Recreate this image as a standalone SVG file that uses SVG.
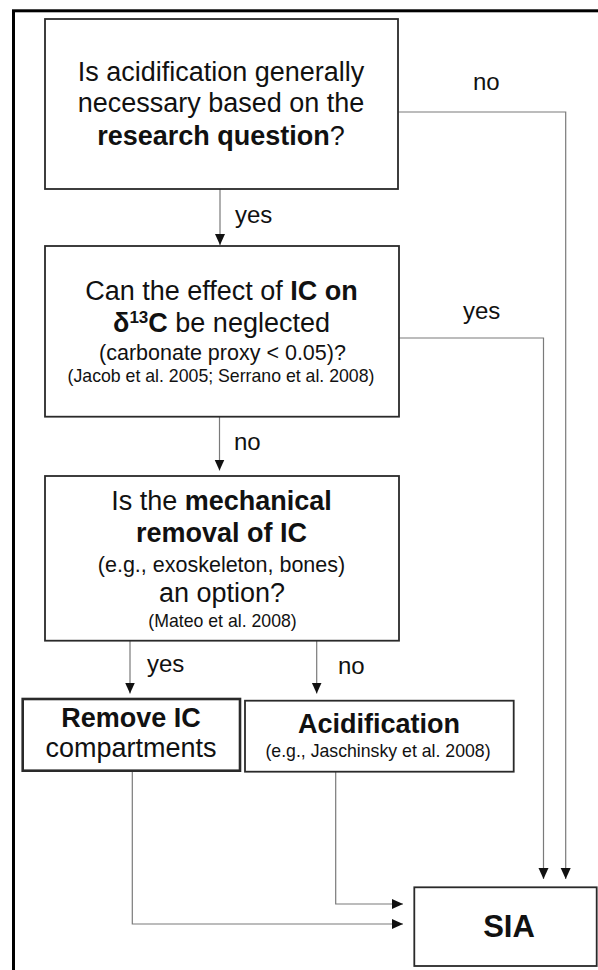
<svg xmlns="http://www.w3.org/2000/svg" width="598" height="970" viewBox="0 0 598 970">
  <defs>
    <marker id="ah" markerUnits="userSpaceOnUse" markerWidth="12" markerHeight="12" refX="11" refY="5" orient="auto">
      <path d="M0,0 L11,5 L0,10 Z" fill="#111"/>
    </marker>
    <style>
      text { font-family: "Liberation Sans", Arial, Helvetica, sans-serif; fill: #111; }
      .box { fill: #fff; stroke: #2a2a2a; stroke-width: 1.8; }
      .thick { stroke-width: 2.6; }
      .main { font-size: 27px; text-anchor: middle; }
      .mid { font-size: 21.5px; text-anchor: middle; }
      .ref { font-size: 17.7px; text-anchor: middle; }
      .lbl { font-size: 24px; }
      .b { font-weight: bold; }
      .conn { fill: none; stroke: #7a7a7a; stroke-width: 1.2; }
    </style>
  </defs>
  <rect x="0" y="0" width="598" height="970" fill="#fff"/>
  <rect id="frame" x="13.5" y="10.8" width="700" height="1000" fill="none" stroke="#000" stroke-width="3"/>

  <g id="connectors">
    <path class="conn" d="M220,189 V245" marker-end="url(#ah)"/>
    <path class="conn" d="M398,112 H565.7 V879" marker-end="url(#ah)"/>
    <path class="conn" d="M399,338 H543.5 V879" marker-end="url(#ah)"/>
    <path class="conn" d="M219.5,417 V470.5" marker-end="url(#ah)"/>
    <path class="conn" d="M130,641 V693.5" marker-end="url(#ah)"/>
    <path class="conn" d="M316.7,641 V693.5" marker-end="url(#ah)"/>
    <path class="conn" d="M132.3,771 V924 H403" marker-end="url(#ah)"/>
    <path class="conn" d="M335.7,772 V904 H403" marker-end="url(#ah)"/>
    <text class="lbl" x="235" y="222.7">yes</text>
    <text class="lbl" x="473" y="90">no</text>
    <text class="lbl" x="463" y="319">yes</text>
    <text class="lbl" x="234" y="450">no</text>
    <text class="lbl" x="147" y="672">yes</text>
    <text class="lbl" x="338" y="674">no</text>
  </g>

  <g id="q1">
    <rect class="box" x="45" y="19" width="353" height="170"/>
    <text class="main" x="221" y="81">Is acidification generally</text>
    <text class="main" x="221" y="112">necessary based on the</text>
    <text class="main" x="221" y="144.5"><tspan class="b">research question</tspan>?</text>
  </g>

  <g id="q2">
    <rect class="box" x="45" y="246" width="354" height="170.7"/>
    <text class="main" x="221.5" y="300">Can the effect of <tspan class="b">IC on</tspan></text>
    <text class="main" x="221.5" y="331.7"><tspan class="b">δ</tspan><tspan class="b" font-size="17" dy="-9">13</tspan><tspan class="b" dy="9">C</tspan> be neglected</text>
    <text class="mid" x="222.5" y="360">(carbonate proxy &lt; 0.05)?</text>
    <text class="ref" x="221" y="381.7">(Jacob et al. 2005; Serrano et al. 2008)</text>
  </g>

  <g id="q3">
    <rect class="box" x="45" y="476" width="354" height="164.7"/>
    <text class="main" x="221.5" y="510">Is the <tspan class="b">mechanical</tspan></text>
    <text class="main b" x="221.5" y="541.7">removal of IC</text>
    <text class="mid" x="221.5" y="571.7">(e.g., exoskeleton, bones)</text>
    <text class="main" x="222" y="601.7">an option?</text>
    <text class="ref" x="222.5" y="626.7">(Mateo et al. 2008)</text>
  </g>

  <g id="remove">
    <rect class="box thick" x="22.7" y="699" width="217.3" height="71.7"/>
    <text class="main b" x="131" y="726.7">Remove IC</text>
    <text class="main" x="131" y="756.7">compartments</text>
  </g>

  <g id="acid">
    <rect class="box" x="245" y="700.7" width="268.7" height="71"/>
    <text class="main b" x="379" y="733.3">Acidification</text>
    <text class="ref" x="378" y="757" font-size="17.4">(e.g., Jaschinsky et al. 2008)</text>
  </g>

  <g id="sia">
    <rect class="box" x="414.3" y="887.3" width="182.4" height="78.7" stroke-width="2.2"/>
    <text class="b" x="509" y="936.7" font-size="31" text-anchor="middle">SIA</text>
  </g>
</svg>
